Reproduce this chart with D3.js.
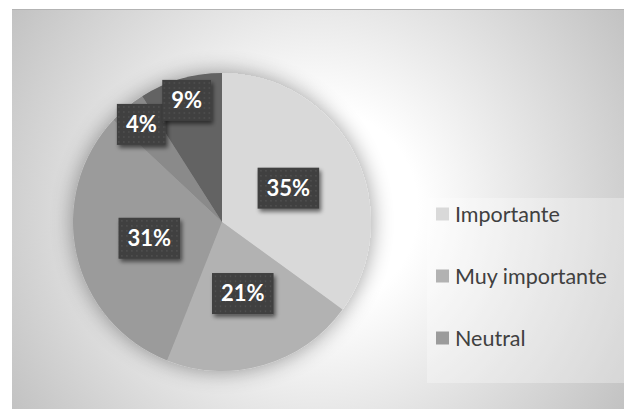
<!DOCTYPE html>
<html>
<head>
<meta charset="utf-8">
<script src="https://cdn.jsdelivr.net/npm/d3@7"></script>
<style>
  html, body { margin: 0; padding: 0; background: #ffffff; }
  svg { display: block; }
</style>
</head>
<body>
<svg id="chart" width="624" height="409"></svg>
<script>
// Survey answers and their shares (%)
const categories = ["Importante", "Muy importante", "Neutral", "Poco importante", "Nada importante"];
const values = [35, 21, 31, 4, 9];
const sliceColors = ["#d9d9d9", "#b2b2b2", "#9b9b9b", "#8a8a8a", "#636363"];

const W = 624, H = 409;
const svg = d3.select("#chart");
const defs = svg.append("defs");

// Chart-area background: soft radial fade from white to grey
const bg = defs.append("radialGradient").attr("id", "bgGrad")
  .attr("gradientUnits", "userSpaceOnUse")
  .attr("cx", 318).attr("cy", 209).attr("r", 370);
bg.append("stop").attr("offset", 0).attr("stop-color", "#ffffff");
bg.append("stop").attr("offset", 0.27).attr("stop-color", "#ffffff");
bg.append("stop").attr("offset", 1).attr("stop-color", "#c1c1c1");

// Soft glow/shadow under the pie
const pieShadow = defs.append("filter").attr("id", "pieShadow")
  .attr("x", "-30%").attr("y", "-30%").attr("width", "160%").attr("height", "160%");
pieShadow.append("feGaussianBlur").attr("in", "SourceAlpha").attr("stdDeviation", 11).attr("result", "b");
pieShadow.append("feComponentTransfer").attr("in", "b").attr("result", "s")
  .append("feFuncA").attr("type", "linear").attr("slope", 0.4);
const pm = pieShadow.append("feMerge");
pm.append("feMergeNode").attr("in", "s");
pm.append("feMergeNode").attr("in", "SourceGraphic");

// Drop shadow for the value boxes
const boxShadow = defs.append("filter").attr("id", "boxShadow")
  .attr("x", "-30%").attr("y", "-30%").attr("width", "170%").attr("height", "170%");
boxShadow.append("feGaussianBlur").attr("in", "SourceAlpha").attr("stdDeviation", 2).attr("result", "b");
boxShadow.append("feOffset").attr("in", "b").attr("dx", 2).attr("dy", 3).attr("result", "o");
boxShadow.append("feComponentTransfer").attr("in", "o").attr("result", "s")
  .append("feFuncA").attr("type", "linear").attr("slope", 0.55);
const bm = boxShadow.append("feMerge");
bm.append("feMergeNode").attr("in", "s");
bm.append("feMergeNode").attr("in", "SourceGraphic");

// Dotted texture for the value boxes
const dots = defs.append("pattern").attr("id", "dots")
  .attr("patternUnits", "userSpaceOnUse").attr("width", 5).attr("height", 5);
dots.append("rect").attr("width", 5).attr("height", 5).attr("fill", "#3f3f3f");
dots.append("rect").attr("x", 2).attr("y", 2).attr("width", 1.3).attr("height", 1.3).attr("fill", "#5a5a5a");

// Chart area
svg.append("rect").attr("x", 12).attr("y", 9).attr("width", W - 12).attr("height", H - 9)
  .attr("fill", "url(#bgGrad)");
svg.append("line").attr("x1", 12).attr("x2", W).attr("y1", 9.5).attr("y2", 9.5)
  .attr("stroke", "#b3b3b3").attr("stroke-width", 1);

// Pie
const cx = 222, cy = 222, R = 149;
const pie = d3.pie().sort(null).value(d => d.value);
const arcs = pie(categories.map((c, i) => ({ name: c, value: values[i] })));
const color = d3.scaleOrdinal().domain(categories).range(sliceColors);
const arc = d3.arc().innerRadius(0).outerRadius(R);

const g = svg.append("g").attr("transform", `translate(${cx},${cy})`);
g.append("g").attr("filter", "url(#pieShadow)")
  .selectAll("path").data(arcs).join("path")
  .attr("d", arc)
  .attr("fill", d => color(d.data.name));

// Value labels: thin slices get pushed toward the rim
const total = d3.sum(values);
const fmt = v => Math.round(v / total * 100) + "%";
const labels = g.append("g").selectAll("g").data(arcs).join("g")
  .attr("transform", d => {
    const share = d.data.value / total;
    const rr = share < 0.1 ? R * 0.85 : R * 0.5;
    const a = (d.startAngle + d.endAngle) / 2;
    return `translate(${Math.sin(a) * rr},${-Math.cos(a) * rr})`;
  });

labels.each(function (d) {
  const sel = d3.select(this);
  const t = sel.append("text")
    .attr("text-anchor", "middle")
    .attr("dy", "0.36em")
    .attr("font-family", "Lato, 'Open Sans', sans-serif")
    .attr("font-weight", "bold")
    .attr("font-size", 22)
    .attr("fill", "#ffffff")
    .text(fmt(d.data.value));
  const tw = t.node().getComputedTextLength();
  const bw = tw + 18, bh = 41;
  sel.insert("rect", "text")
    .attr("x", -bw / 2).attr("y", -bh / 2)
    .attr("width", bw).attr("height", bh)
    .attr("fill", "url(#dots)")
    .attr("filter", "url(#boxShadow)");
});

// Legend: only as many entries as fit in its box
const legX = 427, legY = 198, legW = W - 427, legH = 185, rowGap = 62;
svg.append("rect").attr("x", legX).attr("y", legY).attr("width", legW).attr("height", legH)
  .attr("fill", "#ffffff").attr("fill-opacity", 0.3);
const rowsFit = Math.round(legH / rowGap);
const legend = svg.append("g").selectAll("g").data(categories.slice(0, rowsFit)).join("g")
  .attr("transform", (d, i) => `translate(436,${214 + i * rowGap})`);
legend.append("rect").attr("x", 0).attr("y", -6.5).attr("width", 13).attr("height", 13)
  .attr("fill", d => color(d));
legend.append("text").attr("x", 19).attr("dy", "0.36em")
  .attr("font-family", "Lato, 'Open Sans', sans-serif")
  .attr("font-size", 21.5)
  .attr("fill", "#404040")
  .text(d => d);
</script>
</body>
</html>
